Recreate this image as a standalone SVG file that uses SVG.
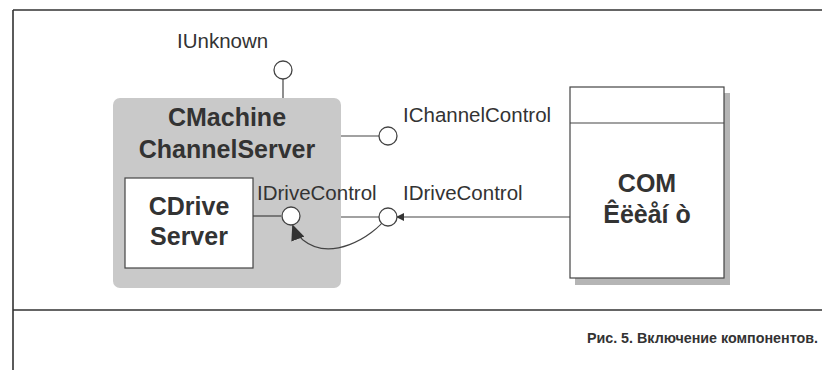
<svg xmlns="http://www.w3.org/2000/svg" width="822" height="370" viewBox="0 0 822 370">
<style>
.t{font-family:"Liberation Sans",Arial,sans-serif;fill:#333}
.lbl{font-size:20.5px}
.big{font-size:25px;font-weight:bold;text-anchor:middle}
.ln{stroke:#444;stroke-width:1.2;fill:none}
.ifc{fill:#fff;stroke:#444;stroke-width:1.3}
</style>
<defs>
<marker id="ah" markerWidth="8" markerHeight="8" refX="7" refY="4" orient="auto" markerUnits="userSpaceOnUse">
<path d="M0,0 L8,4 L0,8 z" fill="#333"/>
</marker>
<marker id="ah2" markerWidth="16" markerHeight="14" refX="14" refY="7" orient="auto" markerUnits="userSpaceOnUse">
<path d="M0,0 L16,7 L0,14 z" fill="#333"/>
</marker>
</defs>
<rect width="822" height="370" fill="#fff"/>
<g id="frame">
<path d="M13,10 H822 M13,10 V370 M13,310 H822" stroke="#333" stroke-width="1.6" fill="none"/>
</g>
<g id="machine">
<rect x="113" y="98" width="228" height="190" rx="7" fill="#c9c9c9"/>
<text class="t big" x="227" y="126" fill="#3a3a3a">CMachine</text>
<text class="t big" x="227" y="158" fill="#3a3a3a">ChannelServer</text>
</g>
<g id="drive">
<rect x="125" y="178" width="128" height="90" fill="#fff" stroke="#444" stroke-width="1.2"/>
<text class="t big" x="189" y="215">CDrive</text>
<text class="t big" x="189" y="245">Server</text>
</g>
<g id="client">
<rect x="575" y="93" width="155" height="192" fill="#b5b5b5"/>
<rect x="570" y="87" width="154" height="191" fill="#fff" stroke="#444" stroke-width="1.2"/>
<line x1="570" y1="123" x2="724" y2="123" stroke="#444" stroke-width="1.2"/>
<text class="t big" x="647" y="192">COM</text>
<text class="t big" x="647" y="223">Êëèåí ò</text>
</g>
<g id="connectors">
<line class="ln" x1="283" y1="79" x2="283" y2="98"/>
<line class="ln" x1="341" y1="136" x2="379" y2="136"/>
<line class="ln" x1="253" y1="216" x2="281" y2="216"/>
<line class="ln" x1="341" y1="217" x2="379" y2="217"/>
<line class="ln" x1="570" y1="217" x2="397" y2="217" marker-end="url(#ah)"/>
<path class="ln" d="M387,217 C372,238 330,262 303,240 Q296,234 293,226" stroke-width="1.8" marker-end="url(#ah2)"/>
</g>
<g id="iunknown">
<circle class="ifc" cx="283" cy="70" r="9"/>
<text class="t lbl" x="177" y="48">IUnknown</text>
</g>
<g id="ichannel">
<circle class="ifc" cx="388" cy="136" r="9"/>
<text class="t lbl" x="403" y="122">IChannelControl</text>
</g>
<g id="idrive-inner">
<circle class="ifc" cx="291" cy="216" r="9"/>
<text class="t lbl" x="257" y="200">IDriveControl</text>
</g>
<g id="idrive-outer">
<circle class="ifc" cx="388" cy="217" r="9"/>
<text class="t lbl" x="403" y="200">IDriveControl</text>
</g>
<g id="caption">
<text class="t" x="818" y="343" text-anchor="end" font-size="14.3" font-weight="bold" fill="#3a3a3a">Рис. 5. Включение компонентов.</text>
</g>
</svg>
